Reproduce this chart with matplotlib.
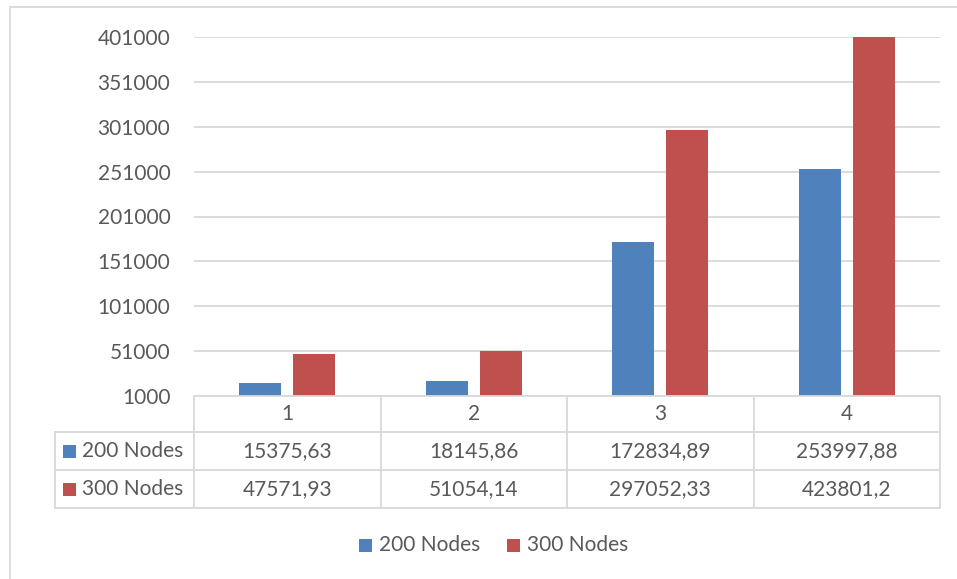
import matplotlib.pyplot as plt
from matplotlib.patches import Rectangle
from matplotlib.lines import Line2D

categories = ["1", "2", "3", "4"]
series_names = ["200 Nodes", "300 Nodes"]
nodes_200 = [15375.63, 18145.86, 172834.89, 253997.88]
nodes_300 = [47571.93, 51054.14, 297052.33, 423801.2]
labels_200 = ["15375,63", "18145,86", "172834,89", "253997,88"]
labels_300 = ["47571,93", "51054,14", "297052,33", "423801,2"]
yticks = [1000, 51000, 101000, 151000, 201000, 251000, 301000, 351000, 401000]

colors = ["#4F81BD", "#C0504D"]
grid_c = "#D9D9D9"
text_c = "#595959"
fs = 15
plt.rcParams['font.family'] = ['Lato', 'DejaVu Sans']

W, H = 957, 579
fig = plt.figure(figsize=(W / 100, H / 100), dpi=100)

def fx(px):
    return px / W

def fy(py):
    return 1 - py / H

# plot area in pixels
left, right, top, bottom = 194, 940, 37, 396
ax = fig.add_axes([fx(left), fy(bottom), fx(right - left), fy(top) - fy(bottom)])

x = list(range(1, 5))
bw = 0.225
gap = 0.065
off = (bw + gap) / 2
ax.bar([i - off for i in x], nodes_200, width=bw, color=colors[0], zorder=3)
ax.bar([i + off for i in x], nodes_300, width=bw, color=colors[1], zorder=3)

ax.set_xlim(0.5, 4.5)
ax.set_ylim(1000, 401000)
ax.set_yticks(yticks)
ax.set_yticklabels([str(v) for v in yticks], color=text_c, fontsize=fs)
ax.tick_params(axis='y', length=0, pad=17)
ax.set_xticks([])
for s in ax.spines.values():
    s.set_visible(False)
ax.grid(axis='y', color=grid_c, linewidth=1.3, zorder=0)

# data table below the plot
col_w = (right - left) / 4
row_y = [396, 432, 470, 508]
lab_left = 55

def hline(x0, x1, y):
    fig.add_artist(Line2D([fx(x0), fx(x1)], [fy(y), fy(y)], color=grid_c, lw=1.3))

def vline(xp, y0, y1):
    fig.add_artist(Line2D([fx(xp), fx(xp)], [fy(y0), fy(y1)], color=grid_c, lw=1.3))

hline(left, right, row_y[0])
for y in row_y[1:]:
    hline(lab_left, right, y)
for i in range(5):
    vline(left + i * col_w, row_y[0], row_y[3])
vline(lab_left, row_y[1], row_y[3])

for i, c in enumerate(categories):
    cx = fx(left + (i + 0.5) * col_w)
    fig.text(cx, fy((row_y[0] + row_y[1]) / 2), c, ha='center', va='center',
             fontsize=fs, color=text_c)
    fig.text(cx, fy((row_y[1] + row_y[2]) / 2), labels_200[i], ha='center', va='center',
             fontsize=fs, color=text_c)
    fig.text(cx, fy((row_y[2] + row_y[3]) / 2), labels_300[i], ha='center', va='center',
             fontsize=fs, color=text_c)

for k, name in enumerate(series_names):
    yc = (row_y[k + 1] + row_y[k + 2]) / 2
    fig.add_artist(Rectangle((fx(63), fy(yc + 6.5)), fx(13), fy(0) - fy(13),
                             color=colors[k], lw=0))
    fig.text(fx(82), fy(yc), name, ha='left', va='center', fontsize=fs, color=text_c)

# legend
leg_y = 545
for k, (sx, name) in enumerate(zip([359, 507], series_names)):
    fig.add_artist(Rectangle((fx(sx), fy(leg_y + 7)), fx(13), fy(0) - fy(13),
                             color=colors[k], lw=0))
    fig.text(fx(sx + 20), fy(leg_y), name, ha='left', va='center', fontsize=fs, color=text_c)

# outer chart border
fig.add_artist(Rectangle((fx(9.5), fy(585)), fx(960), fy(7) - fy(585),
                         fill=False, edgecolor=grid_c, lw=1.3))

fig.savefig("out.png", dpi=100, facecolor="white")
